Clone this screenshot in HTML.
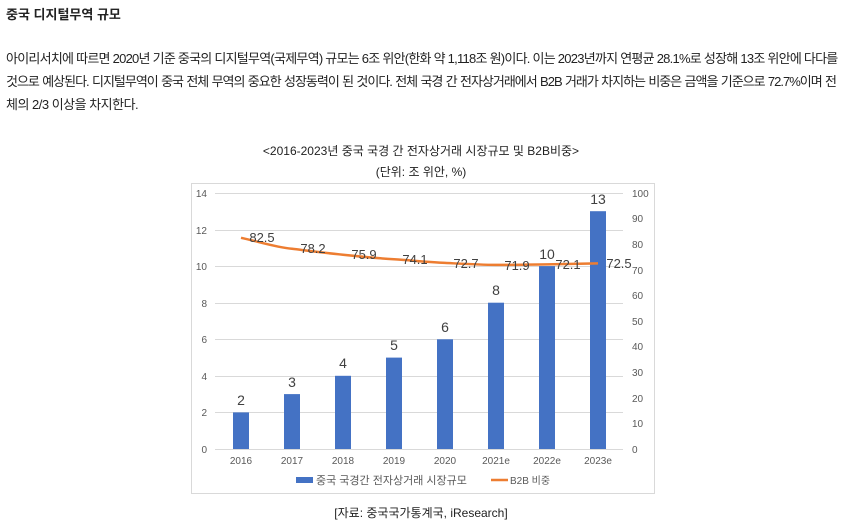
<!DOCTYPE html>
<html><head><meta charset="utf-8"><style>
body{margin:0;width:842px;height:530px;background:#fff;font-family:"Liberation Sans","Noto Sans CJK KR",sans-serif;color:#222;position:relative;overflow:hidden}
.t{position:absolute;white-space:nowrap}
.j{position:absolute;left:6px;width:830px;text-align:justify;text-align-last:justify;font-size:13px;letter-spacing:-0.75px;white-space:nowrap}
</style></head><body>
<div class="t" style="left:6px;top:4px;font-size:13px;font-weight:bold">중국 디지털무역 규모</div>
<div class="j" style="top:48px">아이리서치에 따르면 2020년 기준 중국의 디지털무역(국제무역) 규모는 6조 위안(한화 약 1,118조 원)이다. 이는 2023년까지 연평균 28.1%로 성장해 13조 위안에 다다를</div>
<div class="j" style="top:71px;letter-spacing:-1px">것으로 예상된다. 디지털무역이 중국 전체 무역의 중요한 성장동력이 된 것이다. 전체 국경 간 전자상거래에서 B2B 거래가 차지하는 비중은 금액을 기준으로 72.7%이며 전</div>
<div class="t" style="left:6px;top:94px;font-size:13px;letter-spacing:-0.5px">체의 2/3 이상을 차지한다.</div>
<div class="t" style="left:0;width:842px;text-align:center;top:142px;font-size:12px">&lt;2016-2023년 중국 국경 간 전자상거래 시장규모 및 B2B비중&gt;</div>
<div class="t" style="left:0;width:842px;text-align:center;top:163px;font-size:12px">(단위: 조 위안, %)</div>
<svg style="position:absolute;left:0;top:0" width="842" height="530" font-family="Liberation Sans, Noto Sans CJK KR, sans-serif">
<rect x="191.5" y="183.5" width="463" height="310" fill="#fff" stroke="#d9d9d9"/>
<g stroke="#d9d9d9" stroke-width="1">
<line x1="215" x2="623" y1="193.5" y2="193.5"/><line x1="215" x2="623" y1="230.5" y2="230.5"/><line x1="215" x2="623" y1="266.5" y2="266.5"/><line x1="215" x2="623" y1="303.5" y2="303.5"/><line x1="215" x2="623" y1="339.5" y2="339.5"/><line x1="215" x2="623" y1="376.5" y2="376.5"/><line x1="215" x2="623" y1="412.5" y2="412.5"/><line x1="215" x2="623" y1="449.5" y2="449.5"/>
</g>
<g font-size="10" fill="#595959" text-anchor="end">
<text x="207" y="197">14</text><text x="207" y="234">12</text><text x="207" y="270">10</text><text x="207" y="307">8</text><text x="207" y="343">6</text><text x="207" y="380">4</text><text x="207" y="416">2</text><text x="207" y="453">0</text>
</g>
<g font-size="10" fill="#595959">
<text x="632" y="197">100</text><text x="632" y="222">90</text><text x="632" y="248">80</text><text x="632" y="274">70</text><text x="632" y="299">60</text><text x="632" y="325">50</text><text x="632" y="350">40</text><text x="632" y="376">30</text><text x="632" y="402">20</text><text x="632" y="427">10</text><text x="632" y="453">0</text>
</g>
<g fill="#4472c4">
<rect x="233" y="412.4" width="16" height="36.6"/><rect x="284" y="394.1" width="16" height="54.9"/><rect x="335" y="375.8" width="16" height="73.2"/><rect x="386" y="357.6" width="16" height="91.4"/><rect x="437" y="339.3" width="16" height="109.7"/><rect x="488" y="302.7" width="16" height="146.3"/><rect x="539" y="266.1" width="16" height="182.9"/><rect x="590" y="211.2" width="16" height="237.8"/>
</g>
<g font-size="14" fill="#404040" text-anchor="middle">
<text x="241" y="405">2</text><text x="292" y="387">3</text><text x="343" y="368">4</text><text x="394" y="350">5</text><text x="445" y="332">6</text><text x="496" y="295">8</text><text x="547" y="259">10</text><text x="598" y="204">13</text>
</g>
<path d="M241,237.8 C260,242 275,247 292,248.8 C310,251 325,253 343,254.7 C360,256.5 375,258 394,259.3 C412,260.5 428,262 445,262.9 C463,263.8 480,264.8 496,264.9 C514,265 530,264.5 547,264.4 C565,264.2 580,263.6 598,263.4" fill="none" stroke="#ed7d31" stroke-width="2.5"/>
<g font-size="13" fill="#404040" text-anchor="middle">
<text x="262" y="242">82.5</text><text x="313" y="253">78.2</text><text x="364" y="259">75.9</text><text x="415" y="264">74.1</text><text x="466" y="268">72.7</text><text x="517" y="270">71.9</text><text x="568" y="269">72.1</text><text x="619" y="268">72.5</text>
</g>
<g font-size="10" fill="#595959" text-anchor="middle">
<text x="241" y="464">2016</text><text x="292" y="464">2017</text><text x="343" y="464">2018</text><text x="394" y="464">2019</text><text x="445" y="464">2020</text><text x="496" y="464">2021e</text><text x="547" y="464">2022e</text><text x="598" y="464">2023e</text>
</g>
<rect x="296" y="477" width="17" height="6" fill="#4472c4"/>
<text x="316" y="484" font-size="11" fill="#595959">중국 국경간 전자상거래 시장규모</text>
<line x1="491" x2="508" y1="480" y2="480" stroke="#ed7d31" stroke-width="2.5"/>
<text x="510" y="484" font-size="10" fill="#595959">B2B 비중</text>
</svg>
<div class="t" style="left:0;width:842px;text-align:center;top:504px;font-size:12px">[자료: 중국국가통계국, iResearch]</div>
</body></html>
